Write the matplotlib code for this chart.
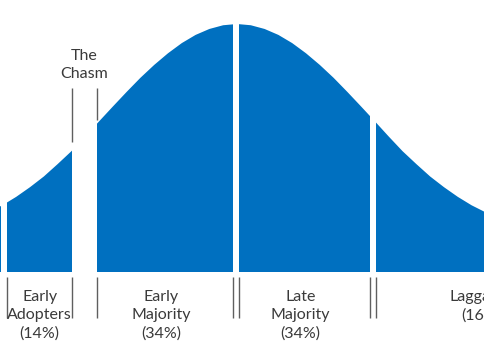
import numpy as np
import matplotlib
matplotlib.use("Agg")
import matplotlib.pyplot as plt

# ---- data ----
# adoption curve height (peak = 1) sampled in standard-deviation units
curve_z = [-1.9, -1.8, -1.7, -1.6, -1.5, -1.4, -1.3, -1.2, -1.1, -1.0, -0.9, -0.8,
           -0.7, -0.6, -0.5, -0.4, -0.3, -0.2, -0.1, 0.0, 0.1, 0.2, 0.3, 0.4, 0.5,
           0.6, 0.7, 0.8, 0.9, 1.0, 1.1, 1.2, 1.3, 1.4, 1.5, 1.6, 1.7, 1.8, 1.9]
curve_h = [0.214, 0.241, 0.269, 0.303, 0.342, 0.385, 0.435, 0.487, 0.546, 0.607,
           0.667, 0.726, 0.783, 0.835, 0.882, 0.923, 0.956, 0.980, 0.995, 1.000,
           0.995, 0.980, 0.956, 0.923, 0.882, 0.835, 0.783, 0.726, 0.667, 0.607,
           0.546, 0.487, 0.435, 0.385, 0.342, 0.303, 0.269, 0.241, 0.214]

segments = ["Innovators", "Early Adopters", "Early Majority", "Late Majority", "Laggards"]
seg_start = [-3.0, -1.667, -1.014, 0.018, 1.007]
seg_end = [-1.71, -1.196, -0.029, 0.967, 3.0]
labels = [None, "Early\nAdopters\n(14%)", "Early\nMajority\n(34%)",
          "Late\nMajority\n(34%)", "Laggards\n(16%)"]
label_x = [None, -1.43, -0.55, 0.46, 1.77]

chasm_label = "The\nChasm"

BLUE = "#0070C0"
GRAY = "#5f5f5f"
TEXT = "#3a3a3a"
FONT = ["Lato", "DejaVu Sans"]

W, H = 485, 360
fig = plt.figure(figsize=(W / 100, H / 100), dpi=100)
base_px, peak_px = 272, 24
unit = base_px - peak_px  # pixels per height unit
ax = fig.add_axes([0, (H - base_px) / H, 1, base_px / H])
ax.set_xlim(-237 / 138, (W - 237) / 138)
ax.set_ylim(0, base_px / unit)
ax.axis("off")

# full curve
ax.fill_between(curve_z, 0, curve_h, color=BLUE, lw=0)

# white gaps between segments
for i in range(len(segments) - 1):
    ax.axvspan(seg_end[i], seg_start[i + 1], color="white", lw=0)

# boundary ticks below the curve
y0, y1 = -5 / unit, -46 / unit
for i in range(1, len(segments)):
    for xb in (seg_start[i], seg_end[i]):
        if -1.72 < xb < 1.8:
            ax.plot([xb, xb], [y0, y1], color=GRAY, lw=1, clip_on=False,
                    solid_capstyle="butt")

# chasm markers
ax.plot([seg_end[1]] * 2, [(base_px - 88) / unit, (base_px - 142) / unit],
        color=GRAY, lw=1, clip_on=False, solid_capstyle="butt")
ax.plot([seg_start[2]] * 2, [(base_px - 88) / unit, (base_px - 120) / unit],
        color=GRAY, lw=1, clip_on=False, solid_capstyle="butt")
ax.text((seg_end[1] + seg_start[2]) / 2, (base_px - 65) / unit, chasm_label,
        ha="center", va="center", fontsize=11.5, color=TEXT, family=FONT,
        linespacing=1.42)

# segment labels
for lab, xc in zip(labels, label_x):
    if lab is None:
        continue
    ax.text(xc, -18 / unit, lab, ha="center", va="top", fontsize=11.5,
            color=TEXT, family=FONT, linespacing=1.36, clip_on=False)

fig.savefig("out.png", dpi=100)
